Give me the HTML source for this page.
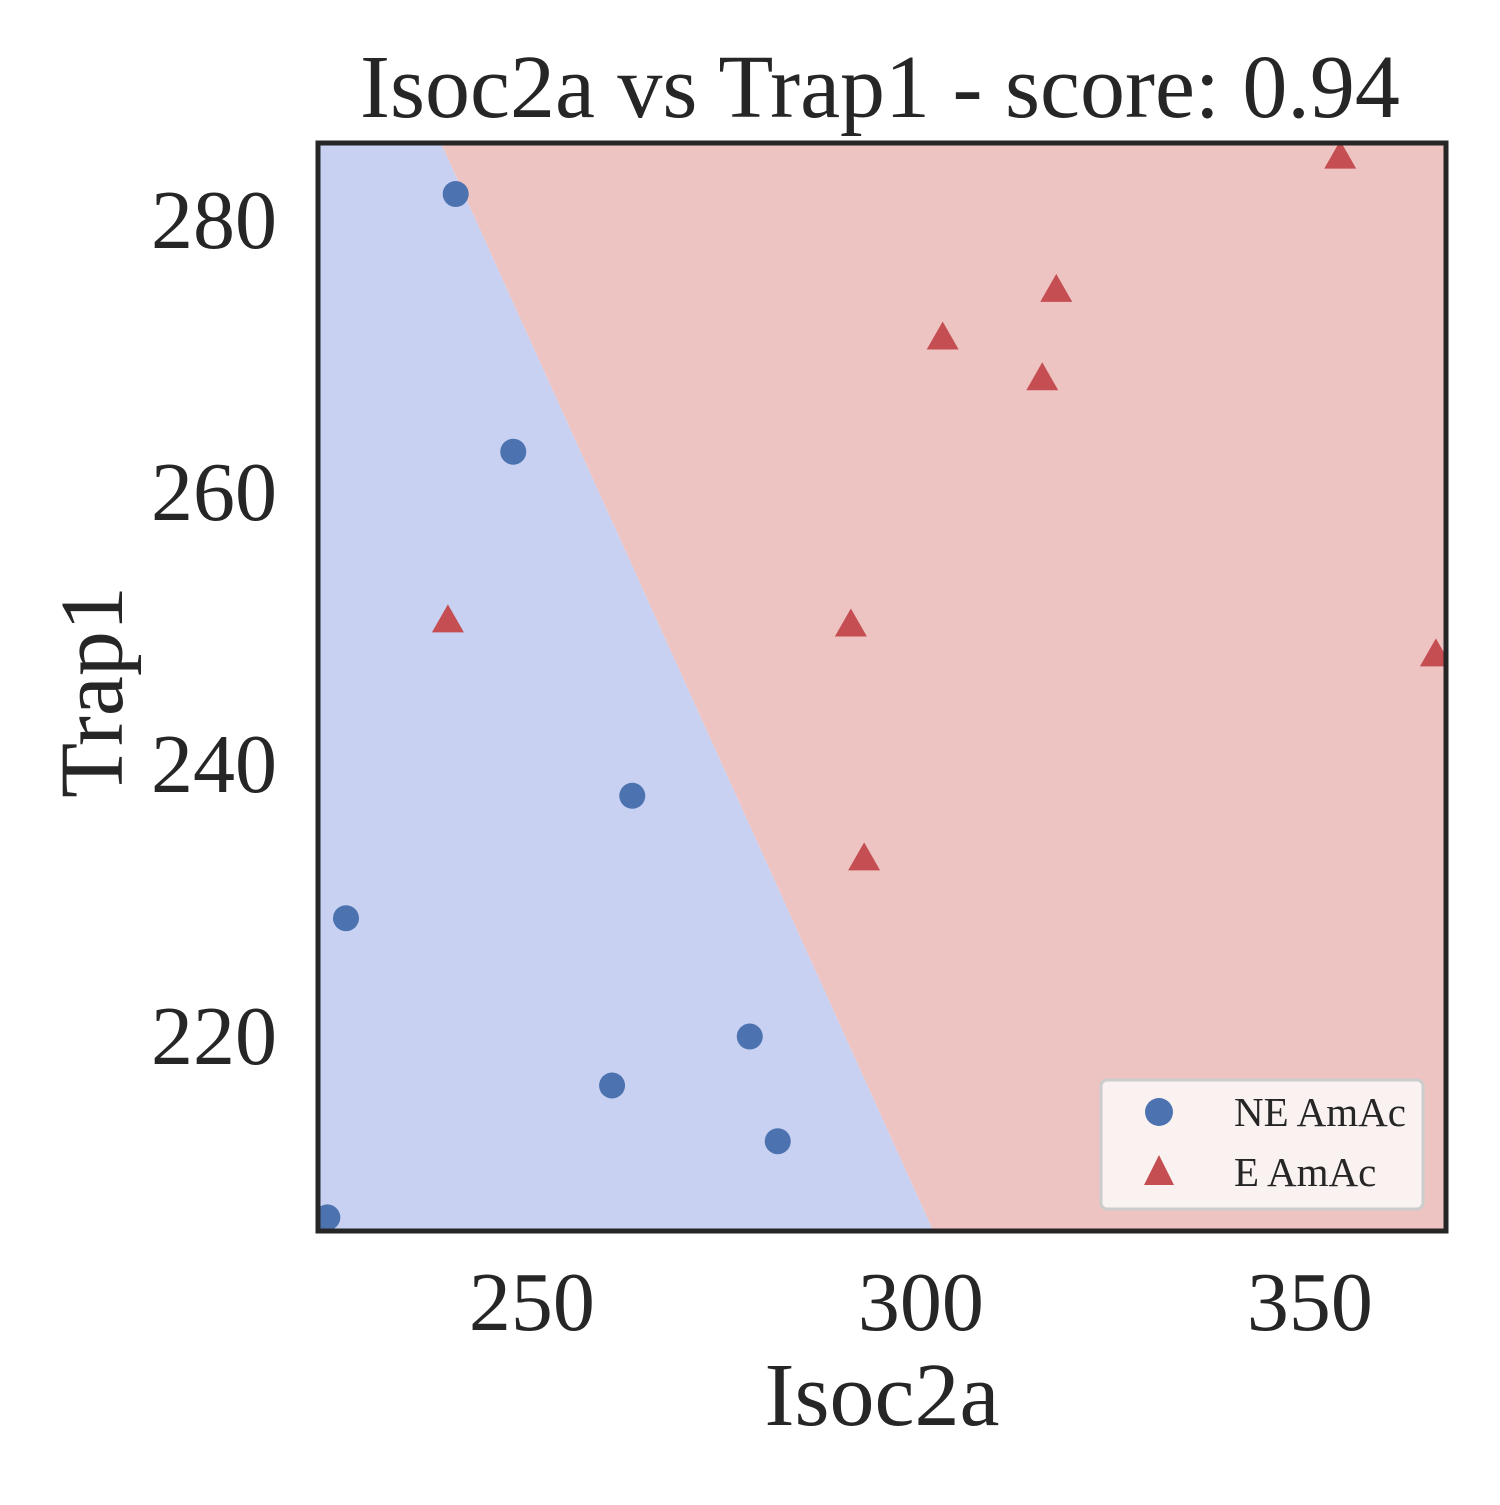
<!DOCTYPE html>
<html><head><meta charset="utf-8"><style>
html,body{margin:0;padding:0;background:#fff;}
svg text{font-family:"Liberation Serif",serif;fill:#262626;}
</style></head><body>
<svg id="chart" width="1500" height="1500" viewBox="0 0 1500 1500" xmlns="http://www.w3.org/2000/svg">
<defs><clipPath id="clip"><rect x="318" y="143" width="1128" height="1088"/></clipPath></defs>
<g id="plot" clip-path="url(#clip)"></g>
<rect x="318" y="143" width="1128" height="1088" fill="none" stroke="#262626" stroke-width="5"/>
<g id="axes"></g>
<text x="880" y="117" font-size="90" text-anchor="middle">Isoc2a vs Trap1 - score: 0.94</text>
<text x="882" y="1425" font-size="90" text-anchor="middle">Isoc2a</text>
<text transform="translate(122,692) rotate(-90)" font-size="90" text-anchor="middle">Trap1</text>
<g>
<rect x="1101" y="1080" width="322" height="129" rx="6" fill="#faf2f1" stroke="#cccccc" stroke-width="3"/>
<circle cx="1159" cy="1112" r="14" fill="#4c72b0"/>
<text x="1234" y="1126" font-size="41">NE AmAc</text>
<polygon points="1159,1155 1144,1185 1174,1185" fill="#c44e52"/>
<text x="1234" y="1186" font-size="41">E AmAc</text>
</g>
</svg>
<script>
const xTicks=[250,300,350];
const yTicks=[220,240,260,280];
const neX=[240.2,247.6,262.9,226.1,278.0,260.3,281.6,223.7];
const neY=[282.05,263.1,237.8,228.8,220.1,216.5,212.4,206.8];
const eX=[353.9,317.4,302.8,315.6,239.2,291.0,366.2,292.7];
const eY=[284.8,275.0,271.5,268.5,250.7,250.4,248.2,233.2];
const boundaryX=[238.3,301.6];
const boundaryY=[285.8,205.8];
const X0=222.5,X1=367.5,Y0=205.8,Y1=285.8;
const PL=318,PR=1446,PT=143,PB=1231;
const sx=v=>PL+(v-X0)/(X1-X0)*(PR-PL);
const sy=v=>PB-(v-Y0)/(Y1-Y0)*(PB-PT);
const NS="http://www.w3.org/2000/svg";
const plot=document.getElementById('plot'),axes=document.getElementById('axes');
function mk(tag,attrs,parent){const e=document.createElementNS(NS,tag);for(const k in attrs)e.setAttribute(k,attrs[k]);parent.appendChild(e);return e;}
const bx0=sx(boundaryX[0]),by0=sy(boundaryY[0]),bx1=sx(boundaryX[1]),by1=sy(boundaryY[1]);
const blue=mk('polygon',{points:`${PL},${PT} ${bx0},${by0} ${bx1},${by1} ${PL},${PB}`,fill:'#c8d1f1'},plot);


const red=mk('polygon',{points:`${bx0},${by0} ${PR},${PT} ${PR},${PB} ${bx1},${by1}`,fill:'#eec4c3'},plot);


for(let i=0;i<neX.length;i++){
 const c=mk('circle',{cx:sx(neX[i]),cy:sy(neY[i]),r:13,fill:'#4c72b0'},plot);
 
 
}
for(let i=0;i<eX.length;i++){
 const x=sx(eX[i]),y=sy(eY[i]);
 const t=mk('polygon',{points:`${x},${y-16} ${x-16},${y+12} ${x+16},${y+12}`,fill:'#c44e52'},plot);
 
 
}
xTicks.forEach(v=>{
 const t=mk('text',{x:sx(v),y:1330,'font-size':84,'text-anchor':'middle'},axes);t.textContent=v;
 
 
});
yTicks.forEach(v=>{
 const t=mk('text',{x:277,y:sy(v)+26,'font-size':84,'text-anchor':'end'},axes);t.textContent=v;
 
 
});
</script>
</body></html>
